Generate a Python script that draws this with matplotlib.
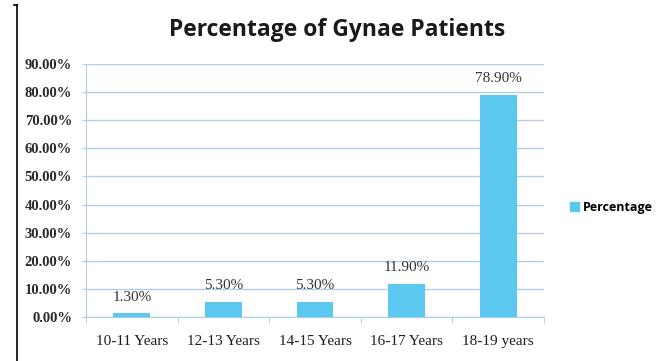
import matplotlib

matplotlib.use("Agg")
import matplotlib.pyplot as plt
from matplotlib.lines import Line2D
from matplotlib.patches import Patch

categorias = ["10-11 Years", "12-13 Years", "14-15 Years", "16-17 Years", "18-19 years"]
percentuais = [1.30, 5.30, 5.30, 11.90, 78.90]
rotulos = ["1.30%", "5.30%", "5.30%", "11.90%", "78.90%"]
yticks = [0, 10, 20, 30, 40, 50, 60, 70, 80, 90]

COR_BARRA = "#5BC8F0"
COR_GRADE = "#A9CFE8"
SERIF = ["Liberation Serif", "DejaVu Serif"]

fig = plt.figure(figsize=(6.58, 3.61), dpi=100)
ax = fig.add_axes([86 / 658, 1 - 317 / 361, (544 - 86) / 658, (317 - 64) / 361])

x = range(len(categorias))
ax.bar(x, percentuais, width=0.4, color=COR_BARRA, zorder=3)
for xi, v, txt in zip(x, percentuais, rotulos):
    ax.annotate(txt, (xi, v), xytext=(0, 7), textcoords="offset points",
                ha="center", va="bottom", fontsize=11, family=SERIF, color="#333333")

ax.set_xlim(-0.5, len(categorias) - 0.5)
ax.set_ylim(0, 90)
ax.set_yticks(yticks)
ax.set_yticklabels([f"{t:.2f}%" for t in yticks], family=SERIF, fontweight="bold",
                   fontsize=10.5, color="#2a2a2a")
ax.set_xticks(list(x))
ax.set_xticklabels(categorias, family=SERIF, fontsize=11, color="#1e1e1e")
ax.set_xticks([i + 0.5 for i in range(-1, len(categorias))], minor=True)
ax.tick_params(axis="x", which="major", length=0, pad=13)
ax.tick_params(axis="x", which="minor", length=4, color=COR_GRADE)
ax.tick_params(axis="y", length=3, color=COR_GRADE, pad=7)
ax.grid(axis="y", color=COR_GRADE, linewidth=0.9, zorder=0)
for lado in ["top", "right"]:
    ax.spines[lado].set_visible(False)
for lado in ["left", "bottom"]:
    ax.spines[lado].set_color(COR_GRADE)

fig.text(337 / 658, 1 - 30 / 361, "Percentage of Gynae Patients", ha="center", va="center",
         fontsize=16.5, fontweight="bold", family=["Open Sans", "DejaVu Sans"], color="#1a1a1a")

fig.legend(handles=[Patch(color=COR_BARRA)], labels=["Percentage"], loc="center left",
           bbox_to_anchor=(561 / 658, 1 - 207 / 361), frameon=False, handlelength=0.7,
           handleheight=0.7, handletextpad=0.35, borderaxespad=0.3,
           prop={"family": ["Open Sans", "DejaVu Sans"], "weight": "bold", "size": 9})

# linha preta à esquerda (borda do recorte original)
fig.add_artist(Line2D([17 / 658, 17 / 658], [0, 1 - 5 / 361], transform=fig.transFigure,
                      color="black", linewidth=1.2))
fig.add_artist(Line2D([14 / 658, 17 / 658], [1 - 5 / 361, 1 - 5 / 361],
                      transform=fig.transFigure, color="black", linewidth=1.2))

fig.savefig("out.png", dpi=100)
